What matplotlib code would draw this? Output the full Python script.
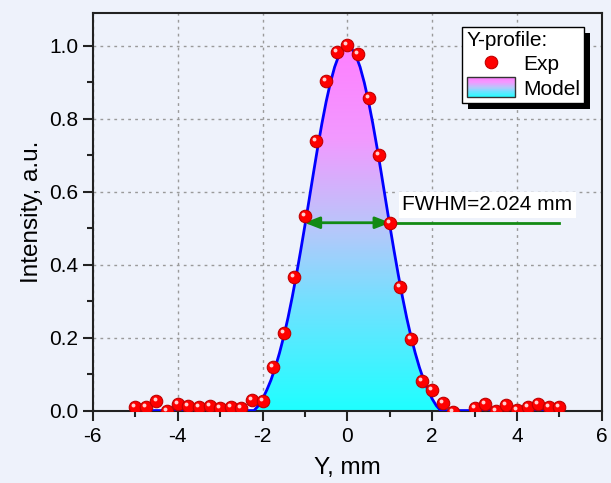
import numpy as np
import matplotlib
matplotlib.use("Agg")
import matplotlib.pyplot as plt
from matplotlib.colors import LinearSegmentedColormap
from matplotlib.patches import Rectangle
from matplotlib.lines import Line2D
from matplotlib.legend_handler import HandlerBase
from matplotlib.ticker import MultipleLocator
import matplotlib.transforms as mtransforms

plt.rcParams['font.family'] = ['Liberation Sans', 'DejaVu Sans']

# ---- data ----
exp_x = [-5.00, -4.75, -4.50, -4.25, -4.00, -3.75, -3.50, -3.25, -3.00, -2.75,
         -2.50, -2.25, -2.00, -1.75, -1.50, -1.25, -1.00, -0.75, -0.50, -0.25,
         0.00, 0.25, 0.50, 0.75, 1.00, 1.25, 1.50, 1.75, 2.00, 2.25,
         2.50, 2.75, 3.00, 3.25, 3.50, 3.75, 4.00, 4.25, 4.50, 4.75, 5.00]
exp_y = [0.009, 0.010, 0.026, 0.000, 0.017, 0.013, 0.010, 0.013, 0.008, 0.010,
         0.008, 0.030, 0.026, 0.119, 0.214, 0.366, 0.533, 0.739, 0.905, 0.983,
         1.002, 0.979, 0.856, 0.702, 0.514, 0.340, 0.196, 0.082, 0.056, 0.022,
         -0.003, -0.030, 0.008, 0.017, 0.000, 0.015, 0.002, 0.011, 0.019, 0.011, 0.010]

model_x = [-5.0, -2.2, -2.1, -2.0, -1.9, -1.8, -1.7, -1.6, -1.5, -1.4, -1.3, -1.2,
           -1.1, -1.0, -0.9, -0.8, -0.7, -0.6, -0.5, -0.4, -0.3, -0.2, -0.1,
           0.0, 0.1, 0.2, 0.3, 0.4, 0.5, 0.6, 0.7, 0.8, 0.9, 1.0, 1.1, 1.2,
           1.3, 1.4, 1.5, 1.6, 1.7, 1.8, 1.9, 2.0, 2.1, 2.2, 5.0]
model_y = [0.0, 0.0, 0.013, 0.032, 0.056, 0.084, 0.118, 0.158, 0.203, 0.254, 0.311, 0.373,
           0.439, 0.508, 0.579, 0.651, 0.721, 0.787, 0.847, 0.899, 0.942, 0.974, 0.993,
           1.000, 0.993, 0.974, 0.942, 0.899, 0.847, 0.787, 0.721, 0.651, 0.579, 0.508,
           0.439, 0.373, 0.311, 0.254, 0.203, 0.158, 0.118, 0.084, 0.056, 0.032, 0.013,
           0.0, 0.0]

fwhm_left, fwhm_right, fwhm_level = -1.012, 1.012, 0.515
fwhm_line_end = 5.0
fwhm_label = "FWHM=2.024 mm"

x_ticks = [-6, -4, -2, 0, 2, 4, 6]
y_ticks = [0.0, 0.2, 0.4, 0.6, 0.8, 1.0]

bg = '#eef2fb'
grad_cmap = LinearSegmentedColormap.from_list(
    'cp', [(0.0, (0.12, 1.0, 1.0)), (0.3, (0.45, 0.88, 1.0)), (0.5, (0.72, 0.78, 0.98)),
           (0.75, (0.95, 0.60, 1.0)), (1.0, (1.0, 0.50, 1.0))])

# ---- figure ----
fig = plt.figure(figsize=(6.11, 4.83), dpi=100, facecolor=bg)
ax = fig.add_axes([0.152, 0.150, 0.833, 0.823], facecolor=bg)
ax.set_xlim(-6, 6)
ax.set_ylim(0, 1.09)

ax.grid(True, which='major', color='#9a9a9a', linestyle=(0, (2, 3)), linewidth=1.0)
ax.set_axisbelow(True)

# gradient fill under the model
poly = ax.fill_between(model_x, model_y, 0, color='none', linewidth=0, zorder=2)
grad = np.linspace(0, 1, 256).reshape(-1, 1)
im = ax.imshow(grad, extent=[-6, 6, 0, 1.0], origin='lower', cmap=grad_cmap,
               aspect='auto', zorder=2, interpolation='bilinear')
path = poly.get_paths()[0]
im.set_clip_path(path, transform=ax.transData)

ax.plot(model_x, model_y, color='#0000ff', lw=2.0, zorder=3)

# FWHM arrow
ax.plot([fwhm_right, fwhm_line_end], [fwhm_level, fwhm_level], color='#138a13', lw=2.0, zorder=4)
ax.annotate('', xy=(fwhm_left, fwhm_level), xytext=(fwhm_right, fwhm_level),
            arrowprops=dict(arrowstyle='<|-|>,head_length=0.9,head_width=0.35',
                            color='#138a13', lw=2.0, shrinkA=0, shrinkB=0), zorder=4)
ax.text(1.29, 0.564, fwhm_label, fontsize=15, va='center', ha='left', zorder=6,
        bbox=dict(facecolor='white', edgecolor='none', pad=2.5))

# experimental points (sphere-like)
ax.plot(exp_x, exp_y, 'o', ms=9, mfc='#ff0000', mec='#c00000', mew=0.8, zorder=5)
hl = mtransforms.offset_copy(ax.transData, fig=fig, x=-1.4, y=1.4, units='points')
ax.plot(exp_x, exp_y, 'o', ms=2.8, mfc='#ffd0d0', mec='none', zorder=5, transform=hl)

# axes styling
for s in ax.spines.values():
    s.set_linewidth(1.5)
    s.set_color('#222222')
ax.set_xticks(x_ticks)
ax.set_yticks(y_ticks)
ax.set_xticklabels([str(t) for t in x_ticks])
ax.set_yticklabels([f"{t:.1f}" for t in y_ticks])
ax.xaxis.set_minor_locator(MultipleLocator(1))
ax.yaxis.set_minor_locator(MultipleLocator(0.1))
ax.tick_params(which='major', direction='out', length=7, width=1.5, labelsize=15, color='#222222')
ax.tick_params(axis='x', which='major', pad=5)
ax.tick_params(which='minor', direction='out', length=4, width=1.5, color='#222222')
ax.tick_params(top=False, right=False, which='both')
ax.set_xlabel('Y, mm', fontsize=17.5, labelpad=8)
ax.set_ylabel('Intensity, a.u.', fontsize=17.5, labelpad=4)


class GradHandler(HandlerBase):
    def create_artists(self, legend, orig_handle, xdescent, ydescent, width, height, fontsize, trans):
        arts = []
        n = 30
        for i in range(n):
            r = Rectangle((-xdescent, -ydescent + height * i / n), width, height / n + 0.3,
                          facecolor=grad_cmap((i + 0.5) / n), edgecolor='none', transform=trans)
            arts.append(r)
        arts.append(Rectangle((-xdescent, -ydescent), width, height, facecolor='none',
                              edgecolor='#333333', lw=1.0, transform=trans))
        return arts


class GradProxy:
    pass


h_exp = Line2D([], [], marker='o', ls='none', ms=9, mfc='#ff0000', mec='#c00000', mew=0.8)
leg = ax.legend([h_exp, GradProxy()], ['Exp', 'Model'], title='Y-profile:',
                handler_map={GradProxy: GradHandler()},
                loc='upper right', bbox_to_anchor=(0.965, 0.965), fontsize=15, title_fontsize=15,
                alignment='left', fancybox=False, framealpha=1, edgecolor='black',
                borderpad=0.2, handlelength=2.3, handleheight=1.1, handletextpad=0.4,
                labelspacing=0.15, borderaxespad=0.0)
leg.get_frame().set_linewidth(1.0)
leg.set_zorder(10)

fig.canvas.draw()
bb = leg.get_window_extent()
inv = ax.transAxes.inverted()
(x0, y0) = inv.transform((bb.x0 + 6, bb.y0 - 6))
(x1, y1) = inv.transform((bb.x1 + 6, bb.y1 - 6))
shadow = Rectangle((x0, y0), x1 - x0, y1 - y0, transform=ax.transAxes,
                   facecolor='black', edgecolor='none', zorder=9, clip_on=False)
ax.add_patch(shadow)
shadow.set_clip_on(False)
shadow.set_clip_path(None)

fig.savefig('out.png', dpi=100, facecolor=bg)
